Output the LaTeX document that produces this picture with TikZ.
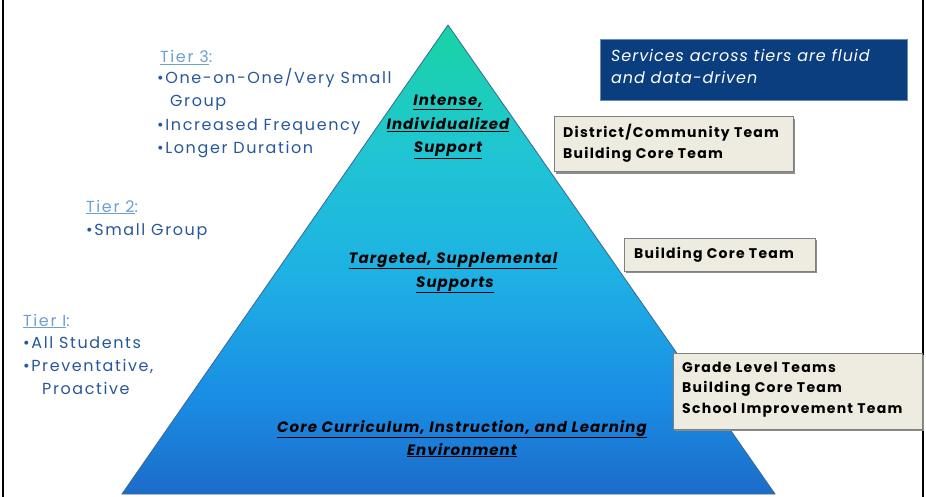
\documentclass[tikz,border=0pt]{standalone}
\usepackage{fontspec}
\newfontfamily\tierfont[LetterSpace=10]{Poppins}
\newfontfamily\teamfont[LetterSpace=9]{Poppins}
\newfontfamily\pyrfont[LetterSpace=7]{Poppins}
\newfontfamily\servfont[LetterSpace=6]{Poppins}
\definecolor{ptop}{RGB}{24,212,162}
\definecolor{pc1}{RGB}{32,198,210}
\definecolor{pc2}{RGB}{30,176,228}
\definecolor{pc3}{RGB}{26,140,228}
\definecolor{pbot}{RGB}{28,108,200}
\definecolor{tierlt}{RGB}{110,160,210}
\definecolor{tierdk}{RGB}{40,88,155}
\definecolor{navy}{RGB}{10,62,126}
\definecolor{beige}{RGB}{238,235,224}
\pgfdeclareverticalshading{pyrshade}{100bp}{color(0bp)=(pbot); color(25bp)=(pbot); color(35bp)=(pc3); color(48bp)=(pc2); color(62bp)=(pc1); color(75bp)=(ptop); color(100bp)=(ptop)}
\tikzset{
  tiertitle/.style={anchor=base west, inner sep=0pt, text=tierlt, font=\tierfont\fontsize{16}{18}\selectfont},
  tieritem/.style={anchor=base west, inner sep=0pt, text=tierdk, font=\tierfont\fontsize{16}{18}\selectfont},
  pyrlabel/.style={anchor=base, inner sep=0pt, text=black, font=\pyrfont\bfseries\itshape\fontsize{15}{17}\selectfont},
  teambox/.style={draw=black!50, fill=beige, line width=1pt},
  teamshadow/.style={fill=black!45},
  teamtext/.style={anchor=base west, inner sep=0pt, text=black, font=\teamfont\bfseries\fontsize{14}{16}\selectfont},
  servtext/.style={anchor=base west, inner sep=0pt, text=white, font=\servfont\itshape\fontsize{16}{18}\selectfont}
}
\begin{document}
\begin{tikzpicture}[x=1pt,y=-1pt]
\useasboundingbox (0,0) rectangle (926,497);
\fill[white] (0,0) rectangle (926,497);
% frame
\draw[line width=2.5pt] (3,0) -- (3,497);
\draw[line width=1.5pt] (923,0) -- (923,497);
% pyramid
\coordinate (apex) at (448,25);
\coordinate (bl) at (122,494);
\coordinate (br) at (775,494);
\shade[shading=pyrshade, draw=navy!80, line width=0.8pt] (apex) -- (br) -- (bl) -- cycle;
% pyramid labels
\node[pyrlabel] (p1a) at (448,106) {\underline{Intense,}};
\node[pyrlabel] (p1b) at (448,130) {\underline{Individualized}};
\node[pyrlabel] (p1c) at (448,153) {\underline{Support}};
\node[pyrlabel] (p2a) at (453,263) {\underline{Targeted, Supplemental}};
\node[pyrlabel] (p2b) at (455,287) {\underline{Supports}};
\node[pyrlabel] (p3a) at (462,432) {\underline{Core Curriculum, Instruction, and Learning}};
\node[pyrlabel] (p3b) at (462,455) {\underline{Environment}};
% tier texts
\node[tiertitle] (t3) at (160,63) {\underline{Tier 3}:};
\node[tieritem] (t3a) at (157,84) {•One-on-One/Very Small};
\node[tieritem] (t3b) at (170,107) {Group};
\node[tieritem] (t3c) at (157,131) {•Increased Frequency};
\node[tieritem] (t3d) at (157,154) {•Longer Duration};
\node[tiertitle] (t2) at (86,212) {\underline{Tier 2}:};
\node[tieritem] (t2a) at (86,235) {•Small Group};
\node[tiertitle] (t1) at (23,326) {\underline{Tier I}:};
\node[tieritem] (t1a) at (23,348) {•All Students};
\node[tieritem] (t1b) at (23,371) {•Preventative,};
\node[tieritem] (t1c) at (42,394) {Proactive};
% services box
\fill[navy, draw=navy!60!white, line width=0.8pt] (600,39) rectangle (907,100);
\node[servtext] (s1) at (611,62) {Services across tiers are fluid};
\node[servtext] (s2) at (611,84) {and data-driven};
% team boxes
\fill[teamshadow] (556,119) rectangle (795,174);
\draw[teambox] (554,117) rectangle (793,172);
\node[teamtext] (b1a) at (563,138) {District/Community Team};
\node[teamtext] (b1b) at (563,159) {Building Core Team};
\fill[teamshadow] (626,240) rectangle (817,273);
\draw[teambox] (624,238) rectangle (815,271);
\node[teamtext] (b2a) at (634,258) {Building Core Team};
\fill[teamshadow] (675,355) rectangle (924,431);
\draw[teambox] (673,353) rectangle (922,429);
\node[teamtext] (b3a) at (682,372) {Grade Level Teams};
\node[teamtext] (b3b) at (682,392) {Building Core Team};
\node[teamtext] (b3c) at (682,413) {School Improvement Team};
\end{tikzpicture}
\end{document}
